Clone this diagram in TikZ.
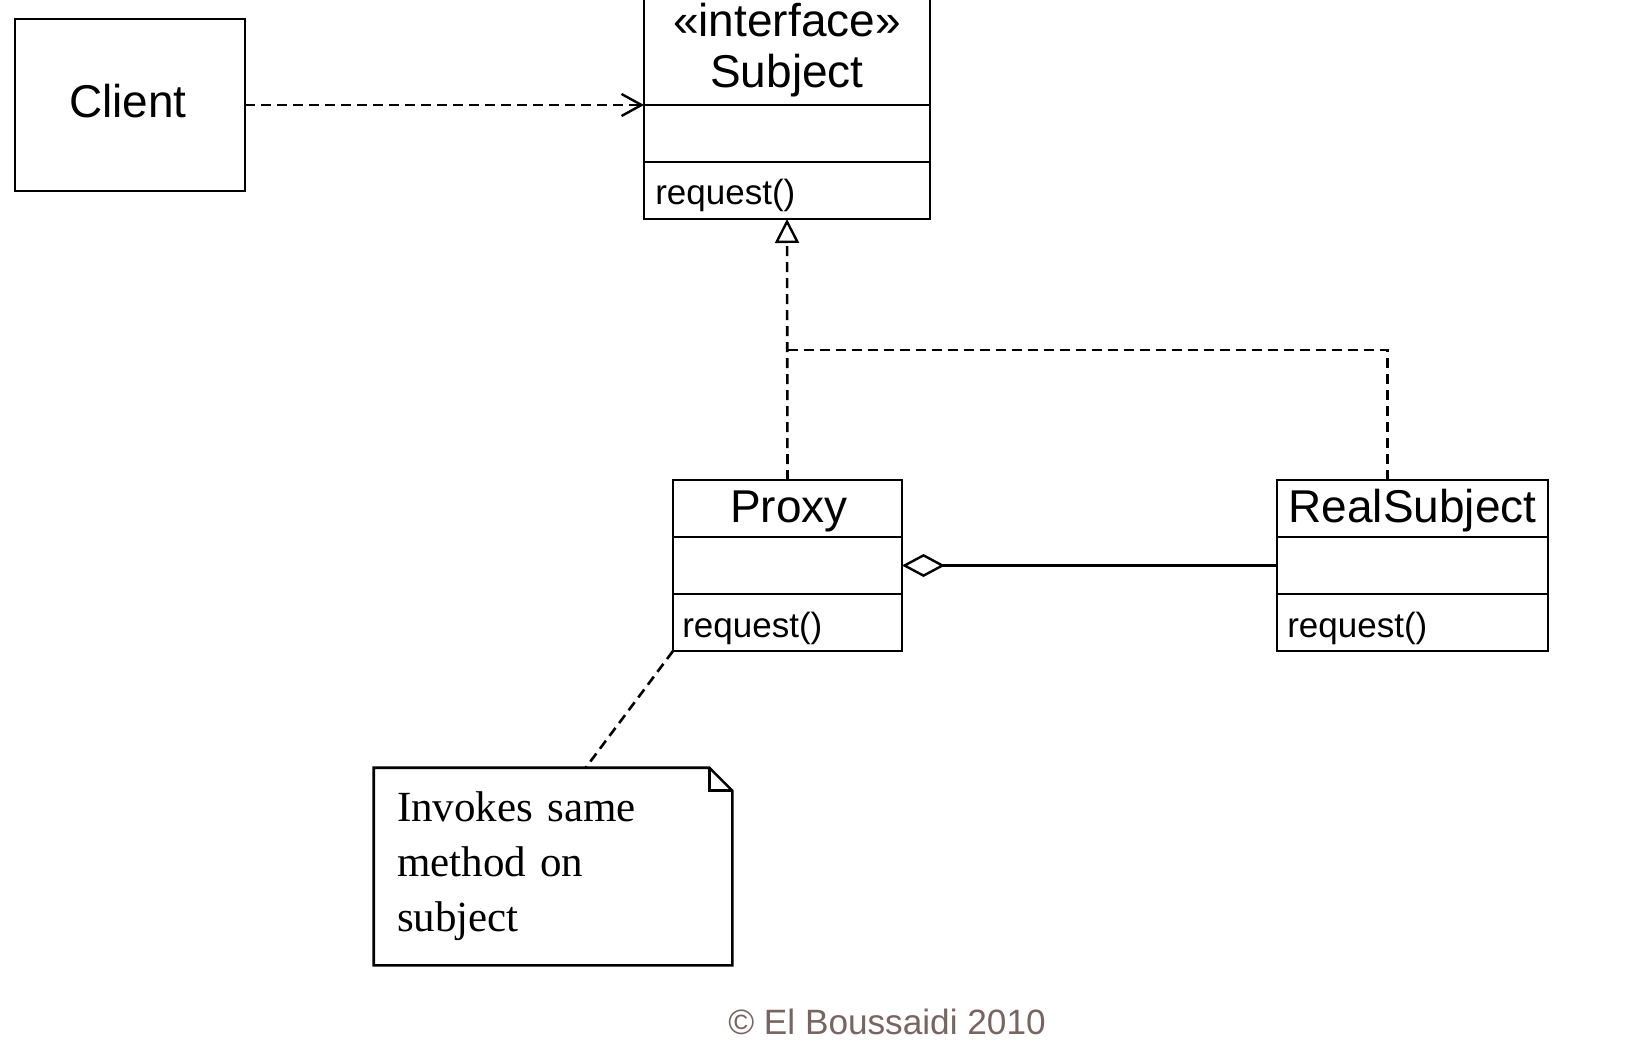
\documentclass[tikz,border=0pt]{standalone}
\usepackage{fontspec}
\setmainfont{Liberation Sans}
\newfontfamily\notefont{Liberation Serif}
\usetikzlibrary{arrows.meta,positioning}
\definecolor{copygray}{RGB}{121,101,96}

\begin{document}
\begin{tikzpicture}[x=0.5pt,y=-0.5pt,line width=1.3pt,
        box/.style={draw,inner sep=0pt,outer sep=0pt},
        cname/.style={inner sep=0pt,font=\fontsize{23}{27}\selectfont},
        op/.style={inner sep=0pt,anchor=west,font=\fontsize{17.5}{21}\selectfont},
        dashline/.style={line width=1.3pt,dash pattern=on 5pt off 3pt}]
    \useasboundingbox (0,0) rectangle (1640,1060);
    % classes
    \node[box,minimum width=115pt,minimum height=86pt] (C) at (130,105) {};
    \node[box,minimum width=143pt,minimum height=111pt] (S) at (787,108) {};
    \node[box,minimum width=114.5pt,minimum height=85.5pt] (P) at (787.5,565.5) {};
    \node[box,minimum width=135.5pt,minimum height=85.5pt] (R) at (1412.5,565.5) {};
    \draw (S.west |- 0,105) -- (S.east |- 0,105);
    \draw (S.west |- 0,162) -- (S.east |- 0,162);
    \draw (P.west |- 0,537) -- (P.east |- 0,537);
    \draw (P.west |- 0,594) -- (P.east |- 0,594);
    \draw (R.west |- 0,537) -- (R.east |- 0,537);
    \draw (R.west |- 0,594) -- (R.east |- 0,594);
    \node[cname] (Cn) at (128,101) {Client};
    \node[cname] (Sst) at (787,20) {«interface»};
    \node[cname] (Sn) at (787,76) {Subject};
    \node[op] (Sop) at (654,195) {request()};
    \node[cname] (Pn) at (789,511) {Proxy};
    \node[op] (Pop) at (681,628) {request()};
    \node[cname] (Rn) at (1412.5,511) {RealSubject};
    \node[op] (Rop) at (1286,628) {request()};
    % note
    \node[inner xsep=11pt,minimum width=178pt,minimum height=97.5pt,text width=156pt,align=left,
        font=\notefont\fontsize{21.5}{27.5}\selectfont] (N) at (553,866.5) {Invokes same\\method on\\subject};
    \draw (N.north west) -- ([xshift=-11.5pt]N.north east) -- ([yshift=-11.5pt]N.north east)
        -- (N.south east) -- (N.south west) -- cycle;
    \draw ([xshift=-11.5pt]N.north east) |- ([yshift=-11.5pt]N.north east);
    % connectors
    \coordinate (J) at (P.north |- 0,350);
    \coordinate (Rin) at ([xshift=-12.5pt]R.north);
    \draw[dashline,-{Straight Barb[length=10pt,width=11pt,line width=1.2pt]}] (C.east) -- (S.west |- C.east);
    \draw[dashline,-{Triangle[open,length=12pt,width=12pt,fill=white,line width=1.2pt]}] (P.north) -- (S.south);
    \draw[dashline] (J) -| (Rin);
    \draw[{Diamond[open,length=21.5pt,width=11.5pt,fill=white,line width=1.2pt]}-] (P.east) -- (R.west);
    \draw[dashline] (P.south west) -- ([xshift=106pt]N.north west);
    \node[text=copygray,font=\fontsize{17.6}{20}\selectfont] (cr) at (887,1022) {© El Boussaidi 2010};
\end{tikzpicture}
\end{document}
